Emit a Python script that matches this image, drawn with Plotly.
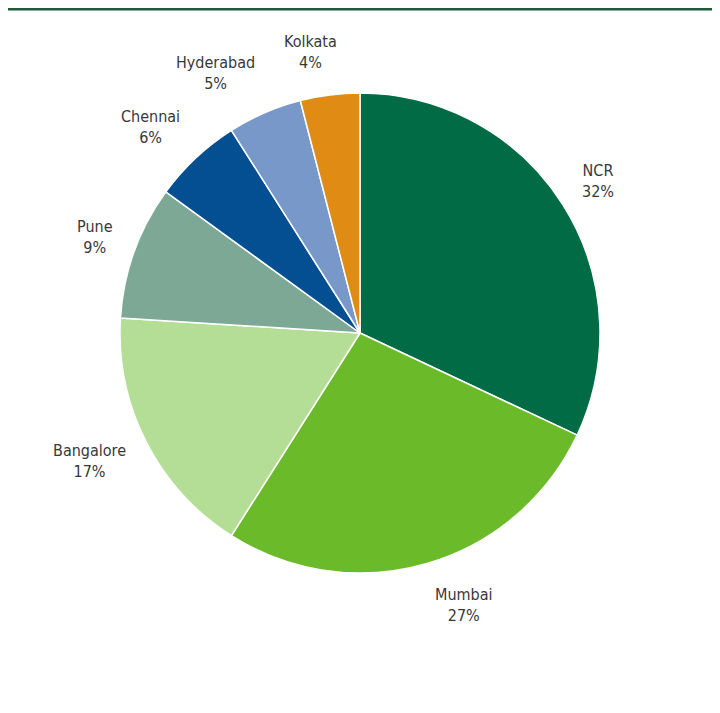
import math
import plotly.graph_objects as go

cities = ["NCR", "Mumbai", "Bangalore", "Pune", "Chennai", "Hyderabad", "Kolkata"]
shares = [32, 27, 17, 9, 6, 5, 4]
colors = ["#006b45", "#6aba2a", "#b4de95", "#7ea896", "#034f92", "#7898c9", "#e08b14"]

W, H = 720, 713
# the page adds an 8px body margin, so positions are given relative to the figure
cx_px, cy_px, R = 352, 325, 240
gap = 20          # distance between pie edge and label box
box_h = 46        # height of a two-line label
char_w = 7.5      # rough width of one character of label text

fig = go.Figure(go.Pie(
    labels=cities,
    values=shares,
    sort=False,
    direction="clockwise",
    rotation=0,
    marker=dict(colors=colors, line=dict(color="white", width=1.5)),
    textinfo="none",
    domain=dict(x=[(cx_px - R) / W, (cx_px + R) / W],
                y=[1 - (cy_px + R) / H, 1 - (cy_px - R) / H]),
    showlegend=False,
    hoverinfo="label+value",
))

# outside labels, excel style: box sits just off the slice's mid point
total = sum(shares)
cum = 0
for name, v in zip(cities, shares):
    a = math.radians((cum + v / 2) / total * 360)
    cum += v
    s = math.sin(a)
    px = cx_px + (R + gap) * s
    py = cy_px - (R + gap) * math.cos(a) - box_h / 2 * math.cos(a)
    if abs(s) >= 0.2:
        anchor = "left" if s > 0 else "right"
    else:
        # right at the top/bottom the box is centred closer over the point
        box_w = char_w * max(len(name), len(f"{v}%"))
        px += box_w / 2 * s / 0.2
        anchor = "center"
    fig.add_annotation(
        x=px / W, y=1 - py / H,
        xref="paper", yref="paper",
        xanchor=anchor, yanchor="middle",
        text=f"{name}<br>{v}%",
        showarrow=False,
        font=dict(family="DejaVu Sans Condensed, Liberation Sans, sans-serif", size=16, color="#383838"),
        align="center",
    )

# dark green rule along the top edge
fig.add_shape(type="line", xref="paper", yref="paper", x0=0, x1=1, y0=1, y1=1,
              line=dict(color="#1e5a3a", width=5))

fig.update_layout(
    width=W, height=H,
    margin=dict(l=0, r=0, t=0, b=0),
    paper_bgcolor="white",
    plot_bgcolor="white",
)

fig.write_html("out.html")
